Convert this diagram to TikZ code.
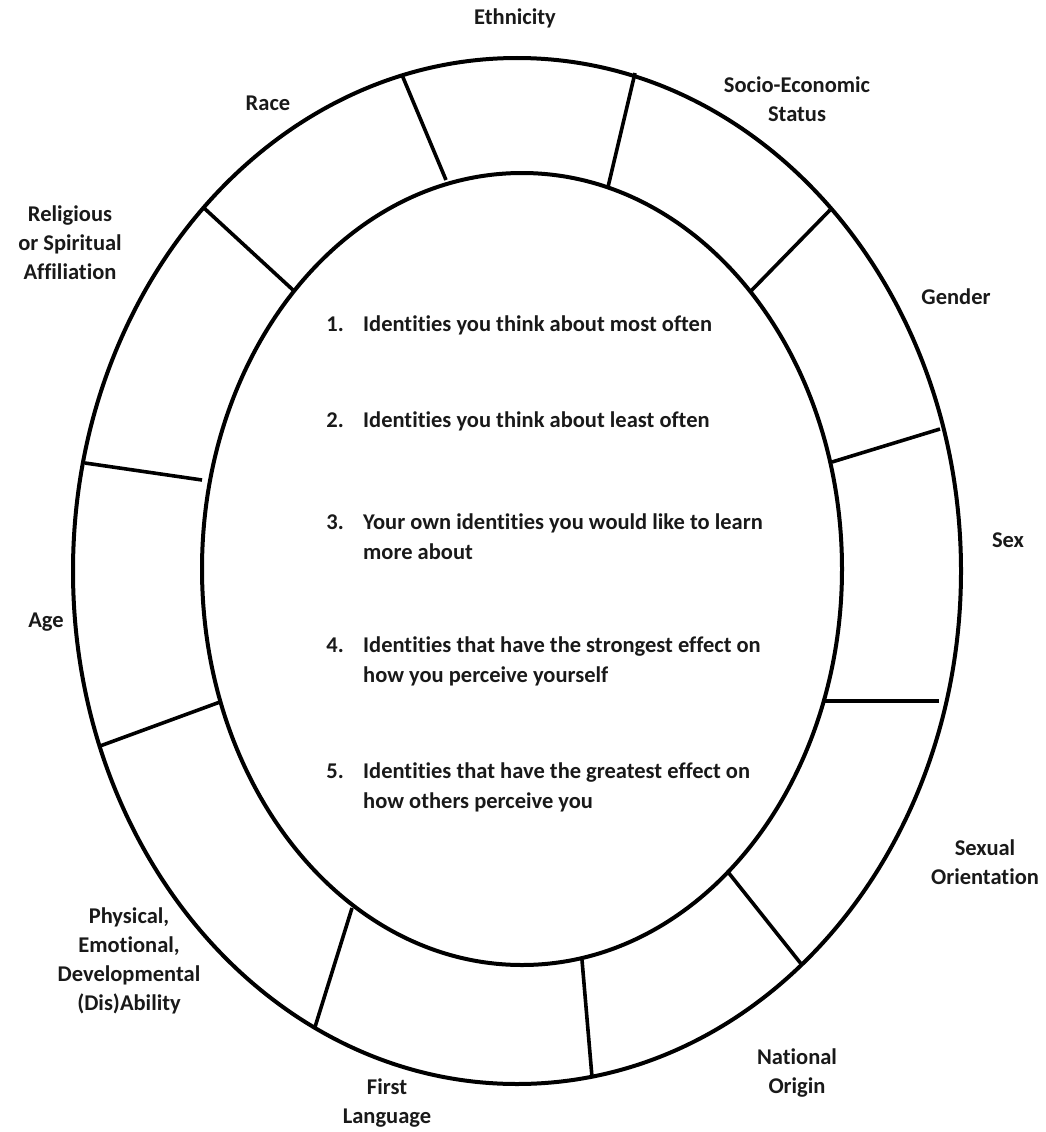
\documentclass[tikz,border=0pt]{standalone}
\usepackage{fontspec}
\setmainfont{Carlito}[Ligatures=NoCommon]
\newcommand\wheelfont{\fontsize{22.5}{29}\selectfont\bfseries}
\newcommand\listfont{\fontsize{22.5}{30}\selectfont\bfseries}
\tikzset{
  ring/.style={line width=4pt, draw=black},
  divider/.style={line width=3.6pt, draw=black},
  lbl/.style={font=\wheelfont, align=center, inner sep=0pt, text=black!90},
  itemnum/.style={font=\listfont, anchor=north east, inner sep=0pt, text=black!90},
  itemtxt/.style={font=\listfont, anchor=north west, align=left, inner sep=0pt, text=black!90},
}
\begin{document}
\begin{tikzpicture}[x=1pt,y=-1pt]
\useasboundingbox (0,0) rectangle (1046,1132);
% rings
\draw[ring] (517,571) ellipse [x radius=444, y radius=513];
\draw[ring] (522,569) ellipse [x radius=320, y radius=396];
% divider end points (outer / inner)
\coordinate (o1) at (402,75);   \coordinate (i1) at (446,180);
\coordinate (o2) at (635,73);   \coordinate (i2) at (608,187);
\coordinate (o3) at (830,210);  \coordinate (i3) at (750,292);
\coordinate (o4) at (940,429);  \coordinate (i4) at (832,462);
\coordinate (o5) at (939,701);  \coordinate (i5) at (824,701);
\coordinate (o6) at (802,965);  \coordinate (i6) at (728,872);
\coordinate (o7) at (592,1077); \coordinate (i7) at (582,960);
\coordinate (o8) at (315,1027); \coordinate (i8) at (352,908);
\coordinate (o9) at (100,746);  \coordinate (i9) at (220,702);
\coordinate (o10) at (85,463);  \coordinate (i10) at (202,480);
\coordinate (o11) at (204,208); \coordinate (i11) at (293,290);
\foreach \k in {1,...,11} { \draw[divider] (o\k) -- (i\k); }
% outer labels
\node[lbl] (eth)  at (515,18)   {Ethnicity};
\node[lbl] (ses)  at (797,99)   {Socio-Economic\\Status};
\node[lbl] (race) at (268,103)  {Race};
\node[lbl] (rel)  at (70,243)   {Religious\\or Spiritual\\Affiliation};
\node[lbl] (gen)  at (956,297)  {Gender};
\node[lbl] (sex)  at (1008,540) {Sex};
\node[lbl] (age)  at (46,622)   {Age};
\node[lbl] (sor)  at (985,862)  {Sexual\\Orientation};
\node[lbl] (nat)  at (797,1073) {National\\Origin};
\node[lbl] (lang) at (387,1103) {First\\Language};
\node[lbl] (abil) at (129,961)  {Physical,\\Emotional,\\Developmental\\(Dis)Ability};
% central list
\node[itemtxt] (t1) at (363,316) {Identities you think about most often};
\node[itemtxt] (t2) at (363,412) {Identities you think about least often};
\node[itemtxt] (t3) at (363,514) {Your own identities you would like to learn\\more about};
\node[itemtxt] (t4) at (363,637) {Identities that have the strongest effect on\\how you perceive yourself};
\node[itemtxt] (t5) at (363,763) {Identities that have the greatest effect on\\how others perceive you};
\foreach \k in {1,...,5} {
  \node[itemnum] (n\k) at ([xshift=-19pt]t\k.north west) {\vphantom{Idf}\k.};
}
\end{tikzpicture}
\end{document}
